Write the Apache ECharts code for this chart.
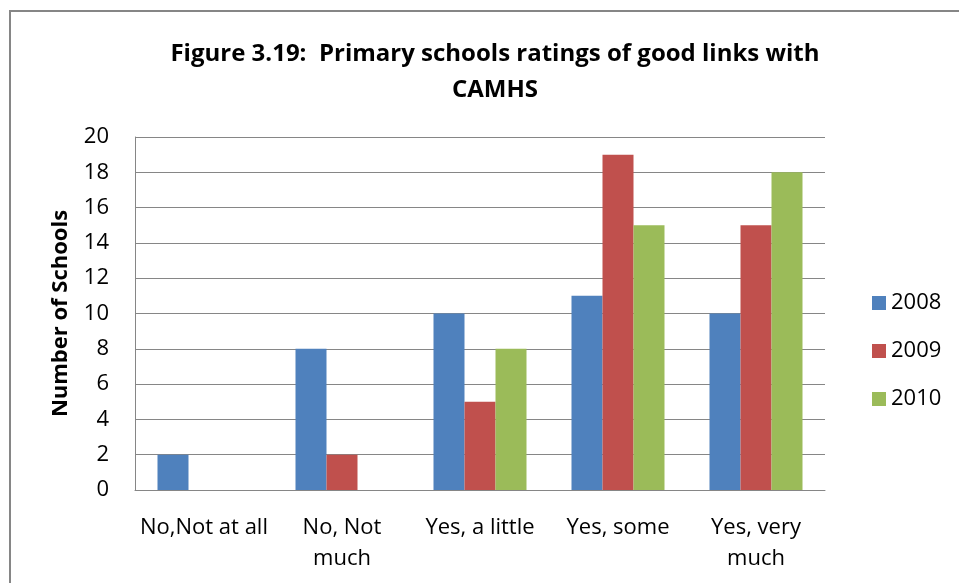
<!DOCTYPE html>
<html><head><meta charset="utf-8">
<script src="https://cdn.jsdelivr.net/npm/echarts@6/dist/echarts.min.js"></script>
<style>html,body{margin:0;padding:0;background:#fff}#c{width:959px;height:583px}</style>
</head><body><div id="c"></div>
<script>
const categories = ['No,Not at all', 'No, Not\nmuch', 'Yes, a little', 'Yes, some', 'Yes, very\nmuch'];
const s2008 = [2, 8, 10, 11, 10];
const s2009 = [0, 2, 5, 19, 15];
const s2010 = [0, 0, 8, 15, 18];
const seriesNames = ['2008', '2009', '2010'];
const colors = ['#4F81BD', '#C0504D', '#9BBB59'];
const FONT = 'Open Sans';
const chart = echarts.init(document.getElementById('c'));
chart.setOption({
  animation: false,
  color: colors,
  title: {
    text: 'Figure 3.19:  Primary schools ratings of good links with\nCAMHS',
    left: 490, top: 31, textAlign: 'center',
    textStyle: {fontFamily: FONT, fontWeight: 'bold', fontSize: 24, lineHeight: 36, color: '#000'}
  },
  graphic: [{type: 'rect', shape: {x: 10, y: 11, width: 1000, height: 700},
    style: {fill: 'none', stroke: '#868686', lineWidth: 2}, silent: true}],
  legend: {
    orient: 'vertical', left: 867, top: 287, itemWidth: 14, itemHeight: 14, itemGap: 26,
    icon: 'rect', textStyle: {fontFamily: FONT, fontSize: 22, color: '#000'},
    data: seriesNames
  },
  grid: {left: 135, right: 134, top: 137, bottom: 93, containLabel: false},
  xAxis: {
    type: 'category', data: categories,
    axisLine: {lineStyle: {color: '#868686'}}, axisTick: {show: false},
    axisLabel: {fontFamily: FONT, fontSize: 22, color: '#000', margin: 22, lineHeight: 31, interval: 0}
  },
  yAxis: {
    type: 'value', min: 0, max: 20, interval: 2,
    name: 'Number of Schools', nameLocation: 'middle', nameGap: 63, nameRotate: 90,
    nameTextStyle: {fontFamily: FONT, fontWeight: 'bold', fontSize: 22, color: '#000'},
    axisLine: {show: true, lineStyle: {color: '#868686'}}, axisTick: {show: false},
    splitLine: {lineStyle: {color: '#868686'}},
    axisLabel: {fontFamily: FONT, fontSize: 22, color: '#000', margin: 26}
  },
  series: [
    {name: seriesNames[0], type: 'bar', data: s2008, barGap: '0%', barCategoryGap: '32.6%'},
    {name: seriesNames[1], type: 'bar', data: s2009, barGap: '0%', barCategoryGap: '32.6%'},
    {name: seriesNames[2], type: 'bar', data: s2010, barGap: '0%', barCategoryGap: '32.6%'}
  ]
});
</script></body></html>
